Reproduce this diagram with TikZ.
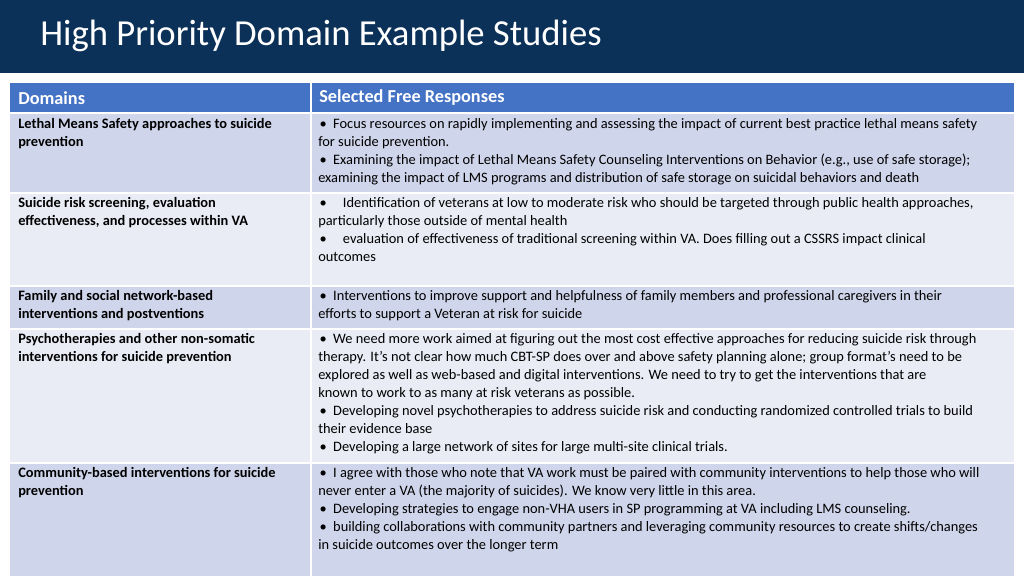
\documentclass[tikz,border=0pt]{standalone}
\usepackage{fontspec}
\setmainfont{Carlito}
\definecolor{navy}{HTML}{0B3158}
\definecolor{hdr}{HTML}{4472C4}
\definecolor{rowA}{HTML}{CFD5EA}
\definecolor{rowB}{HTML}{E9EBF5}
\newcommand\bitem[1][11.2pt]{\par\noindent\hangindent=#1\hangafter=1\hbox to #1{\hskip1pt\textbullet\hfil}\ignorespaces}
\newcommand\cellR[1]{\begin{minipage}[t]{525pt}\raggedright\parindent=0pt\fontsize{10.8}{13.5}\selectfont #1\end{minipage}}
\newcommand\cellL[1]{\begin{minipage}[t]{220pt}\raggedright\parindent=0pt\fontsize{10.8}{13.5}\selectfont\bfseries #1\end{minipage}}
\begin{document}
\begin{tikzpicture}[x=0.75pt,y=-0.75pt,
  cell/.style={anchor=north west,inner sep=0pt},
  hd/.style={anchor=west,inner sep=0pt,text=white,font=\fontsize{13.7}{16}\selectfont\bfseries}]
\useasboundingbox (0,0) rectangle (1024,576);
\fill[white] (0,0) rectangle (1024,576);
\fill[navy] (0,0) rectangle (1024,73);
\node[anchor=west,text=white,font=\fontsize{27.5}{32}\selectfont,inner sep=0pt] (title) at (40,36) {High Priority Domain Example Studies};
\fill[hdr] (10,83) rectangle (1014,112);
\fill[rowA] (10,113) rectangle (1014,192);
\fill[rowB] (10,193) rectangle (1014,285);
\fill[rowA] (10,286) rectangle (1014,328);
\fill[rowB] (10,329) rectangle (1014,462);
\fill[rowA] (10,463) rectangle (1014,576);
\draw[white,line width=1.5pt] (311,83) -- (311,576);
\foreach \y in {112.5,192.5,285.5,328.5,462.5} \draw[white,line width=1.5pt] (10,\y) -- (1014,\y);
\node[hd] (h1) at (18,98) {Domains};
\node[hd] (h2) at (319,98) {Selected Free Responses};
\node[cell] (l1) at (18,118) {\cellL{Lethal Means Safety approaches to suicide\\prevention}};
\node[cell] (l2) at (18,197) {\cellL{Suicide risk screening, evaluation\\effectiveness, and processes within VA}};
\node[cell] (l3) at (18,290) {\cellL{Family and social network-based\\interventions and postventions}};
\node[cell] (l4) at (18,333) {\cellL{Psychotherapies and other non-somatic\\interventions for suicide prevention}};
\node[cell] (l5) at (18,467) {\cellL{Community-based interventions for suicide\\prevention}};
\node[cell] (r1) at (318,118) {\cellR{\bitem Focus resources on rapidly implementing and assessing the impact of current best practice lethal means safety\\for suicide prevention.
\bitem Examining the impact of Lethal Means Safety Counseling Interventions on Behavior (e.g., use of safe storage);\\examining the impact of LMS programs and distribution of safe storage on suicidal behaviors and death}};
\node[cell] (r2) at (318,197) {\cellR{\bitem[18.5pt] Identification of veterans at low to moderate risk who should be targeted through public health approaches,\\particularly those outside of mental health
\bitem[18.5pt] evaluation of effectiveness of traditional screening within VA. Does filling out a CSSRS impact clinical\\outcomes}};
\node[cell] (r3) at (318,290) {\cellR{\bitem Interventions to improve support and helpfulness of family members and professional caregivers in their\\efforts to support a Veteran at risk for suicide}};
\node[cell] (r4) at (318,333) {\cellR{\bitem We need more work aimed at figuring out the most cost effective approaches for reducing suicide risk through\\therapy. It's not clear how much CBT-SP does over and above safety planning alone; group format's need to be\\explored as well as web-based and digital interventions. We need to try to get the interventions that are\\known to work to as many at risk veterans as possible.
\bitem Developing novel psychotherapies to address suicide risk and conducting randomized controlled trials to build\\their evidence base
\bitem Developing a large network of sites for large multi-site clinical trials.}};
\node[cell] (r5) at (318,467) {\cellR{\bitem I agree with those who note that VA work must be paired with community interventions to help those who will\\never enter a VA (the majority of suicides). We know very little in this area.
\bitem Developing strategies to engage non-VHA users in SP programming at VA including LMS counseling.
\bitem building collaborations with community partners and leveraging community resources to create shifts/changes\\in suicide outcomes over the longer term}};
\end{tikzpicture}
\end{document}
